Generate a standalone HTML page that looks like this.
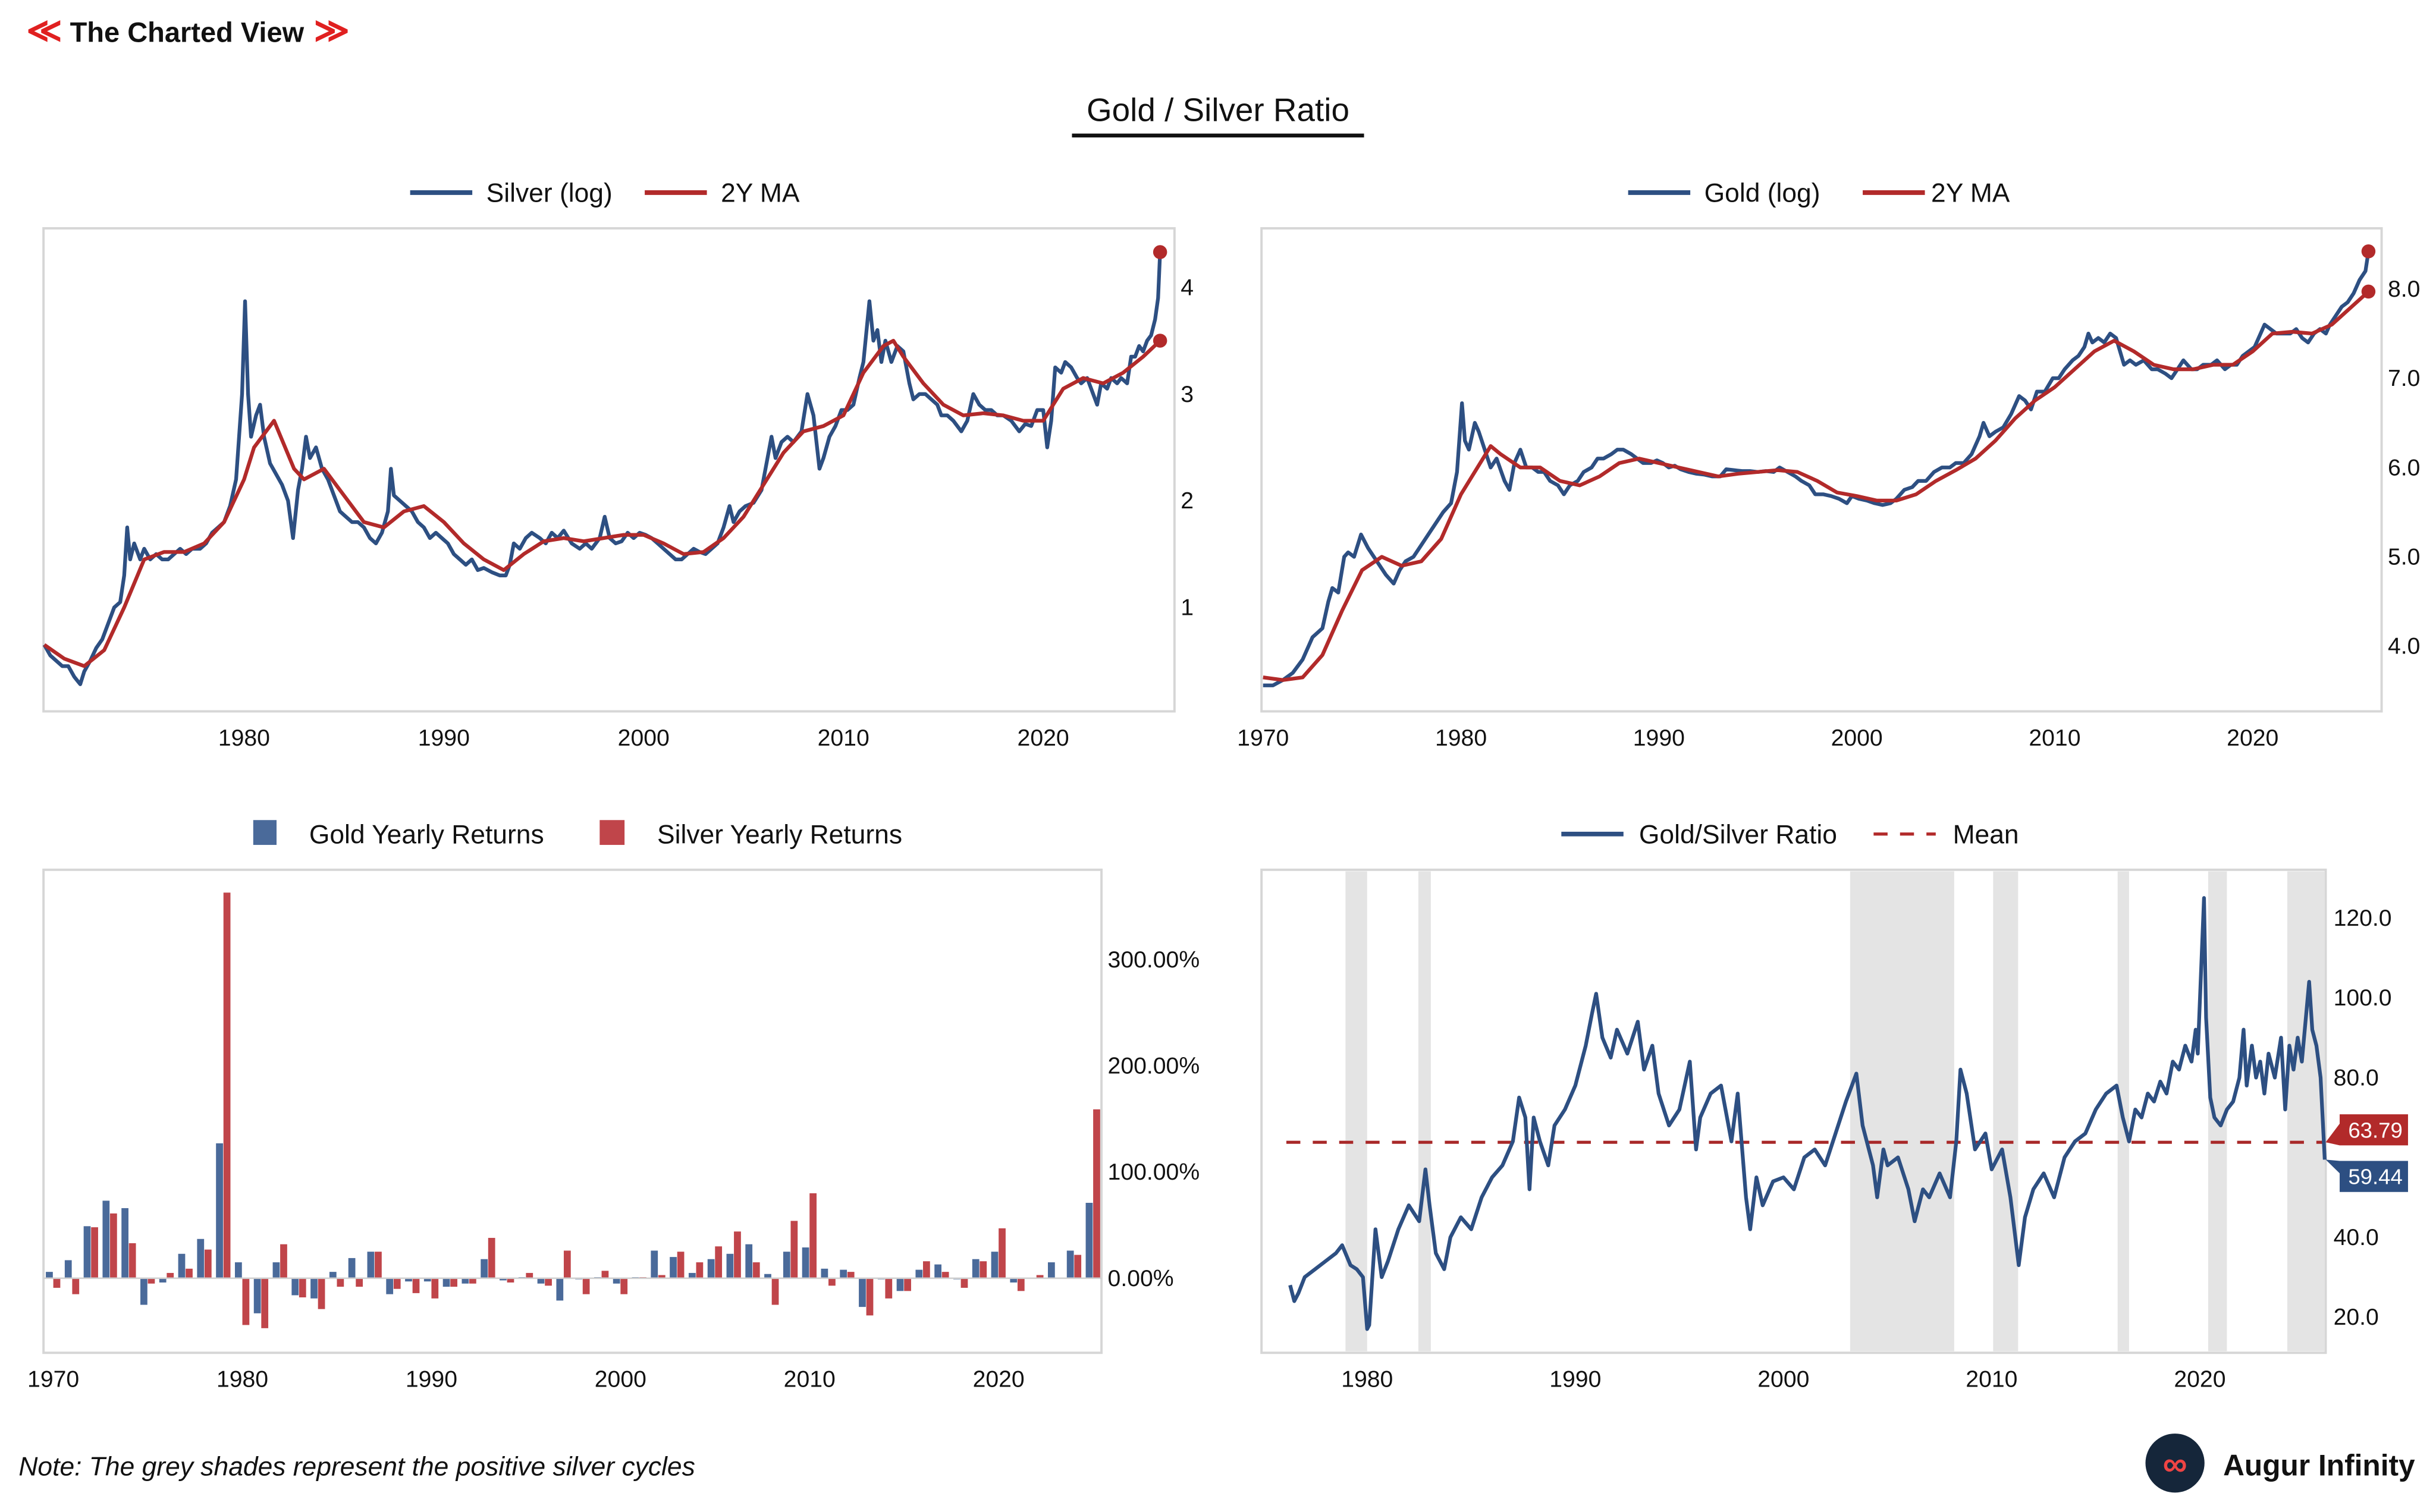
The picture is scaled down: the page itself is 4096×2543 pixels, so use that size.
<!DOCTYPE html>
<html><head><meta charset="utf-8"><style>
html,body{margin:0;padding:0;background:#fff;}
svg{display:block;font-family:"Liberation Sans",sans-serif;}
.tk{font-size:15px;fill:#111;}
.lg{font-size:17px;fill:#111;}
</style></head><body>
<svg id="root" width="4096" height="2543" viewBox="0 0 1568 973.5" xmlns="http://www.w3.org/2000/svg">
<g>
<text x="17" y="27" font-size="22" font-weight="bold" fill="#e02020">≪</text>
<text x="45" y="27" font-size="18" font-weight="bold" fill="#111">The Charted View</text>
<text x="202" y="27" font-size="22" font-weight="bold" fill="#e02020">≫</text>
</g>
<text x="784" y="78" text-anchor="middle" font-size="21" fill="#111">Gold / Silver Ratio</text>
<rect x="690" y="86" width="188" height="2.5" fill="#111"/>

<g>
<line x1="264" y1="124" x2="304" y2="124" stroke="#2d4f82" stroke-width="3"/><text class="lg" x="313" y="130">Silver (log)</text>
<line x1="415" y1="124" x2="455" y2="124" stroke="#b22a2a" stroke-width="3"/><text class="lg" x="464" y="130">2Y MA</text>
</g>
<g>
<line x1="1048" y1="124" x2="1088" y2="124" stroke="#2d4f82" stroke-width="3"/><text class="lg" x="1097" y="130">Gold (log)</text>
<line x1="1199" y1="124" x2="1239" y2="124" stroke="#b22a2a" stroke-width="3"/><text class="lg" x="1243" y="130">2Y MA</text>
</g>
<g>
<rect x="163" y="528" width="15" height="16" fill="#4a6a9a"/><text class="lg" x="199" y="543">Gold Yearly Returns</text>
<rect x="386" y="528" width="16" height="16" fill="#c0454a"/><text class="lg" x="423" y="543">Silver Yearly Returns</text>
</g>
<g>
<line x1="1005" y1="537" x2="1045" y2="537" stroke="#2d4f82" stroke-width="3"/><text class="lg" x="1055" y="543">Gold/Silver Ratio</text>
<line x1="1206" y1="537" x2="1246" y2="537" stroke="#b22a2a" stroke-width="2" stroke-dasharray="9,8"/><text class="lg" x="1257" y="543">Mean</text>
</g>

<g id="p1"><rect x="28" y="147" width="728" height="311" fill="none" stroke="#d6d6d6" stroke-width="1.5"/></g>
<g id="p2"><rect x="812" y="147" width="721" height="311" fill="none" stroke="#d6d6d6" stroke-width="1.5"/></g>
<g id="p3"><rect x="28" y="560" width="681" height="311" fill="none" stroke="#d6d6d6" stroke-width="1.5"/></g>
<g id="p4"><rect x="812" y="560" width="685" height="311" fill="none" stroke="#d6d6d6" stroke-width="1.5"/></g>

<text x="12" y="950" font-size="17" font-style="italic" fill="#111">Note: The grey shades represent the positive silver cycles</text>
<g>
<circle cx="1400" cy="942" r="19" fill="#15263a"/>
<text x="1400" y="950" text-anchor="middle" font-size="22" fill="#e44" font-weight="bold">∞</text>
<text x="1431" y="950" font-size="19" font-weight="bold" fill="#111">Augur Infinity</text>
</g>
</svg>
<script>
const silverYears=[1970.0,1970.3,1970.6,1970.9,1971.2,1971.5,1971.8,1972.0,1972.3,1972.6,1972.9,1973.2,1973.5,1973.8,1974.0,1974.15,1974.3,1974.5,1974.8,1975.0,1975.3,1975.6,1975.9,1976.2,1976.5,1976.8,1977.1,1977.4,1977.8,1978.1,1978.4,1978.7,1979.0,1979.3,1979.6,1979.9,1980.05,1980.2,1980.35,1980.6,1980.8,1981.0,1981.3,1981.6,1981.9,1982.2,1982.45,1982.7,1982.9,1983.1,1983.3,1983.6,1983.9,1984.2,1984.5,1984.8,1985.1,1985.4,1985.7,1986.0,1986.3,1986.6,1986.9,1987.2,1987.35,1987.5,1987.8,1988.1,1988.4,1988.7,1989.0,1989.3,1989.6,1989.9,1990.2,1990.5,1990.8,1991.1,1991.4,1991.7,1992.0,1992.4,1992.8,1993.1,1993.3,1993.5,1993.8,1994.1,1994.4,1994.8,1995.1,1995.4,1995.7,1996.0,1996.4,1996.8,1997.1,1997.4,1997.8,1998.05,1998.3,1998.6,1998.9,1999.2,1999.5,1999.8,2000.1,2000.4,2000.7,2001.0,2001.3,2001.6,2001.9,2002.2,2002.5,2002.8,2003.1,2003.4,2003.7,2004.0,2004.3,2004.5,2004.8,2005.1,2005.5,2005.9,2006.2,2006.4,2006.6,2006.9,2007.2,2007.5,2007.9,2008.2,2008.5,2008.8,2009.0,2009.3,2009.6,2009.9,2010.2,2010.5,2010.8,2011.0,2011.3,2011.5,2011.7,2011.9,2012.1,2012.4,2012.7,2013.0,2013.3,2013.5,2013.8,2014.1,2014.4,2014.7,2014.9,2015.2,2015.5,2015.9,2016.2,2016.5,2016.8,2017.1,2017.4,2017.7,2018.0,2018.4,2018.8,2019.1,2019.4,2019.7,2020.0,2020.2,2020.4,2020.6,2020.9,2021.1,2021.4,2021.7,2021.9,2022.2,2022.4,2022.7,2022.9,2023.2,2023.4,2023.7,2023.9,2024.2,2024.4,2024.6,2024.8,2025.0,2025.2,2025.4,2025.6,2025.75,2025.85];
const silverVals=[0.65,0.55,0.5,0.45,0.45,0.35,0.28,0.4,0.5,0.62,0.7,0.85,1.0,1.05,1.3,1.75,1.45,1.6,1.45,1.55,1.45,1.5,1.45,1.45,1.5,1.55,1.5,1.55,1.55,1.6,1.7,1.75,1.8,1.95,2.2,3.0,3.87,3.0,2.6,2.8,2.9,2.6,2.35,2.25,2.15,2.0,1.65,2.1,2.3,2.6,2.4,2.5,2.3,2.2,2.05,1.9,1.85,1.8,1.8,1.75,1.65,1.6,1.7,1.9,2.3,2.05,2.0,1.95,1.9,1.8,1.75,1.65,1.7,1.65,1.6,1.5,1.45,1.4,1.45,1.35,1.37,1.33,1.3,1.3,1.4,1.6,1.55,1.65,1.7,1.65,1.6,1.7,1.65,1.72,1.6,1.55,1.6,1.55,1.65,1.85,1.65,1.6,1.62,1.7,1.65,1.7,1.68,1.65,1.6,1.55,1.5,1.45,1.45,1.5,1.55,1.52,1.5,1.55,1.6,1.75,1.95,1.8,1.9,1.95,1.98,2.1,2.4,2.6,2.4,2.55,2.6,2.55,2.65,3.0,2.8,2.3,2.4,2.6,2.7,2.85,2.85,2.9,3.15,3.3,3.87,3.5,3.6,3.3,3.5,3.3,3.45,3.4,3.1,2.95,3.0,3.0,2.95,2.9,2.8,2.8,2.75,2.65,2.75,3.0,2.9,2.85,2.85,2.8,2.8,2.75,2.65,2.72,2.7,2.85,2.85,2.5,2.75,3.25,3.2,3.3,3.25,3.15,3.1,3.15,3.05,2.9,3.1,3.05,3.15,3.1,3.15,3.1,3.35,3.35,3.45,3.4,3.5,3.55,3.7,3.9,4.33];
const silverMaYears=[1970,1971,1972,1973,1974,1975,1976,1977,1978,1979,1980,1980.5,1981.5,1982.5,1983,1984,1985,1986,1987,1988,1989,1990,1991,1992,1993,1994,1995,1996,1997,1998,1999,2000,2001,2002,2003,2004,2005,2006,2007,2008,2009,2010,2011,2012,2012.5,2013,2014,2015,2016,2017,2018,2019,2020,2021,2022,2023,2024,2025,2025.85];
const silverMaVals=[0.65,0.52,0.45,0.6,1.0,1.45,1.52,1.52,1.6,1.8,2.2,2.5,2.75,2.3,2.2,2.3,2.05,1.8,1.75,1.9,1.95,1.8,1.6,1.45,1.35,1.5,1.62,1.65,1.62,1.65,1.68,1.68,1.6,1.5,1.52,1.65,1.85,2.15,2.45,2.65,2.7,2.8,3.2,3.45,3.5,3.35,3.1,2.9,2.8,2.82,2.8,2.75,2.75,3.05,3.15,3.1,3.2,3.35,3.5];
const silverTicks=[1,2,3,4];
const goldYears=[1970.0,1970.5,1971.0,1971.5,1972.0,1972.5,1973.0,1973.3,1973.5,1973.8,1974.1,1974.3,1974.6,1974.95,1975.3,1975.6,1975.9,1976.2,1976.6,1976.9,1977.2,1977.6,1977.9,1978.2,1978.5,1978.8,1979.1,1979.5,1979.8,1980.05,1980.2,1980.4,1980.7,1980.9,1981.2,1981.5,1981.8,1982.2,1982.45,1982.7,1983.0,1983.3,1983.6,1983.9,1984.2,1984.5,1984.9,1985.2,1985.5,1985.9,1986.2,1986.6,1986.9,1987.2,1987.6,1987.9,1988.2,1988.6,1988.9,1989.2,1989.6,1989.9,1990.2,1990.5,1990.8,1991.1,1991.5,1991.9,1992.3,1992.7,1993.1,1993.4,1993.8,1994.2,1994.6,1995.0,1995.4,1995.8,1996.1,1996.5,1996.9,1997.2,1997.6,1997.9,1998.3,1998.7,1999.1,1999.5,1999.75,2000.1,2000.5,2000.9,2001.3,2001.7,2002.0,2002.4,2002.8,2003.1,2003.5,2003.9,2004.3,2004.7,2005.0,2005.4,2005.8,2006.2,2006.4,2006.7,2007.0,2007.4,2007.8,2008.2,2008.5,2008.8,2009.1,2009.5,2009.9,2010.2,2010.5,2010.9,2011.2,2011.5,2011.7,2011.9,2012.2,2012.5,2012.8,2013.1,2013.3,2013.5,2013.8,2014.1,2014.5,2014.9,2015.2,2015.6,2015.9,2016.2,2016.5,2016.9,2017.2,2017.5,2017.9,2018.2,2018.6,2018.9,2019.2,2019.5,2019.8,2020.1,2020.4,2020.6,2020.9,2021.2,2021.6,2021.9,2022.2,2022.5,2022.8,2023.1,2023.4,2023.7,2023.9,2024.2,2024.5,2024.8,2025.1,2025.4,2025.7,2025.85];
const goldVals=[3.56,3.56,3.62,3.7,3.85,4.1,4.2,4.5,4.65,4.6,5.0,5.05,5.0,5.25,5.1,5.0,4.9,4.8,4.7,4.85,4.95,5.0,5.1,5.2,5.3,5.4,5.5,5.6,5.95,6.72,6.3,6.2,6.5,6.4,6.2,6.0,6.1,5.85,5.75,6.05,6.2,6.0,6.0,5.95,5.95,5.85,5.8,5.7,5.8,5.85,5.95,6.0,6.1,6.1,6.15,6.2,6.2,6.15,6.1,6.05,6.05,6.08,6.05,6.0,6.02,5.98,5.95,5.93,5.92,5.9,5.9,5.98,5.97,5.96,5.96,5.95,5.96,5.95,6.0,5.95,5.9,5.85,5.8,5.7,5.7,5.68,5.65,5.6,5.68,5.65,5.63,5.6,5.58,5.6,5.65,5.75,5.78,5.85,5.85,5.95,6.0,6.0,6.05,6.05,6.15,6.35,6.5,6.35,6.4,6.45,6.6,6.8,6.75,6.65,6.85,6.85,7.0,7.0,7.1,7.2,7.25,7.35,7.5,7.4,7.45,7.4,7.5,7.45,7.3,7.15,7.2,7.15,7.2,7.1,7.1,7.05,7.0,7.1,7.2,7.1,7.1,7.15,7.15,7.2,7.1,7.15,7.15,7.25,7.3,7.35,7.5,7.6,7.55,7.5,7.5,7.5,7.55,7.45,7.4,7.5,7.55,7.5,7.6,7.7,7.8,7.85,7.95,8.1,8.2,8.42];
const goldMaYears=[1970,1971,1972,1973,1974,1975,1976,1977,1978,1979,1980,1981.5,1982,1983,1984,1985,1986,1987,1988,1989,1990,1991,1992,1993,1994,1995,1996,1997,1998,1999,2000,2001,2002,2003,2004,2005,2006,2007,2008,2009,2010,2011,2012,2013,2014,2015,2016,2017,2018,2019,2020,2021,2022,2023,2024,2025,2025.85];
const goldMaVals=[3.65,3.62,3.65,3.9,4.4,4.85,5.0,4.9,4.95,5.2,5.7,6.24,6.15,6.0,6.0,5.85,5.8,5.9,6.05,6.1,6.05,6.0,5.95,5.9,5.93,5.95,5.97,5.95,5.85,5.72,5.68,5.63,5.63,5.7,5.85,5.97,6.1,6.3,6.55,6.75,6.9,7.1,7.3,7.42,7.3,7.15,7.1,7.1,7.15,7.15,7.3,7.5,7.52,7.5,7.6,7.8,7.97];
const goldTicks=[4,5,6,7,8];
const retYears=[1970,1971,1972,1973,1974,1975,1976,1977,1978,1979,1980,1981,1982,1983,1984,1985,1986,1987,1988,1989,1990,1991,1992,1993,1994,1995,1996,1997,1998,1999,2000,2001,2002,2003,2004,2005,2006,2007,2008,2009,2010,2011,2012,2013,2014,2015,2016,2017,2018,2019,2020,2021,2022,2023,2024,2025];
const goldRet=[6,17,49,73,66,-25,-4,23,37,127,15,-33,15,-16,-19,6,19,25,-15,-3,-3,-8,-5,18,-2,1,-5,-21,-1,1,-5,1,26,20,5,18,23,32,4,25,29,9,8,-27,-1,-12,8,13,-1,18,25,-4,0,15,26,71];
const silverRet=[-9,-15,48,61,33,-5,5,9,27,363,-44,-47,32,-18,-29,-8,-8,25,-10,-14,-19,-8,-5,38,-4,5,-7,26,-15,7,-15,1,3,25,15,30,44,15,-25,54,80,-7,6,-35,-19,-12,16,6,-9,16,47,-12,3,0,22,159];
const retTicks=[0,100,200,300];
const ratioYears=[1976.3,1976.5,1976.7,1977,1977.5,1978,1978.5,1978.8,1979.2,1979.5,1979.8,1980.0,1980.1,1980.4,1980.7,1981,1981.5,1982,1982.5,1982.8,1983,1983.3,1983.7,1984,1984.5,1985,1985.5,1986,1986.5,1987,1987.3,1987.6,1987.8,1988,1988.3,1988.7,1989,1989.5,1990,1990.5,1990.8,1991,1991.3,1991.7,1992,1992.5,1993,1993.3,1993.7,1994,1994.5,1995,1995.5,1995.8,1996,1996.5,1997,1997.5,1997.8,1998.2,1998.4,1998.7,1999,1999.5,2000,2000.5,2001,2001.5,2002,2002.5,2003,2003.5,2003.8,2004.3,2004.5,2004.8,2005,2005.5,2006,2006.3,2006.7,2007,2007.5,2008,2008.3,2008.5,2008.8,2009.2,2009.7,2010,2010.5,2010.9,2011.3,2011.6,2012,2012.5,2013,2013.5,2014,2014.5,2015,2015.5,
2016,2016.3,2016.6,2016.9,2017.2,2017.5,2017.8,2018.1,2018.4,2018.7,2019.0,2019.3,2019.6,2019.8,2019.9,2020.2,2020.3,2020.5,2020.7,
2021,2021.3,2021.6,2021.9,2022.1,2022.25,2022.5,2022.7,2022.9,2023.1,2023.3,2023.6,2023.9,2024.1,2024.3,2024.5,2024.7,2024.9,2025.25,2025.4,2025.6,2025.8,2026.0];
const ratioVals=[28,24,26,30,32,34,36,38,33,32,30,17,18,42,30,34,42,48,44,57,48,36,32,40,45,42,50,55,58,64,75,70,52,70,64,58,68,72,78,88,96,101,90,85,92,86,94,82,88,76,68,72,84,62,70,76,78,64,76,50,42,55,48,54,55,52,60,62,58,66,74,81,68,58,50,62,58,60,52,44,52,50,56,50,64,82,76,62,66,57,62,50,33,45,52,56,50,60,64,66,72,76,
78,70,64,72,70,76,74,79,76,84,82,88,84,92,86,125,95,75,70,
68,72,74,80,92,78,88,80,84,76,86,80,90,72,88,82,90,84,104,92,88,80,59.44];
const ratioMean=63.79;
const cycleStarts=[1978.96,1982.46,2003.2,2010.07,2016.05,2020.4,2024.2];
const cycleEnds=[1980.0,1983.06,2008.2,2011.27,2016.6,2021.3,2026.0];
const ratioTicks=[20,40,80,100,120];
const yearTicks=[1980,1990,2000,2010,2020];

const NS="http://www.w3.org/2000/svg";
function mk(parent,tag,attrs){const e=document.createElementNS(NS,tag);for(const k in attrs)e.setAttribute(k,attrs[k]);parent.appendChild(e);return e;}
function pathD(xs,ys,fx,fy){return xs.map((x,i)=>(i?'L':'M')+fx(x).toFixed(2)+','+fy(ys[i]).toFixed(2)).join('');}

// Panel 1 silver
const p1=document.getElementById('p1');
const x1=y=>28.5+(y-1970)*12.86, y1=v=>185+(4-v)*68.7;
yearTicks.forEach(t=>{const e=mk(p1,'text',{x:x1(t),y:480,'text-anchor':'middle',class:'tk'});e.textContent=t;

});
silverTicks.forEach(t=>{const e=mk(p1,'text',{x:760,y:y1(t)+5,class:'tk'});e.textContent=t;

});
let e=mk(p1,'path',{d:pathD(silverYears,silverVals,x1,y1),fill:'none',stroke:'#2d4f82','stroke-width':2.4,'stroke-linejoin':'round'});


e=mk(p1,'path',{d:pathD(silverMaYears,silverMaVals,x1,y1),fill:'none',stroke:'#b22a2a','stroke-width':2.4,'stroke-linejoin':'round'});


e=mk(p1,'circle',{cx:x1(silverYears[silverYears.length-1]),cy:y1(silverVals[silverVals.length-1]),r:4.5,fill:'#b22a2a'});


e=mk(p1,'circle',{cx:x1(silverMaYears[silverMaYears.length-1]),cy:y1(silverMaVals[silverMaVals.length-1]),r:4.5,fill:'#b22a2a'});



// Panel 2 gold
const p2=document.getElementById('p2');
const x2=y=>813+(y-1970)*12.74, y2=v=>186+(8-v)*57.5;
[1970].concat(yearTicks).forEach(t=>{const e=mk(p2,'text',{x:x2(t),y:480,'text-anchor':'middle',class:'tk'});e.textContent=t;

});
goldTicks.forEach(t=>{const e=mk(p2,'text',{x:1537,y:y2(t)+5,class:'tk'});e.textContent=t.toFixed(1);

});
e=mk(p2,'path',{d:pathD(goldYears,goldVals,x2,y2),fill:'none',stroke:'#2d4f82','stroke-width':2.4,'stroke-linejoin':'round'});


e=mk(p2,'path',{d:pathD(goldMaYears,goldMaVals,x2,y2),fill:'none',stroke:'#b22a2a','stroke-width':2.4,'stroke-linejoin':'round'});


e=mk(p2,'circle',{cx:x2(goldYears[goldYears.length-1]),cy:y2(goldVals[goldVals.length-1]),r:4.5,fill:'#b22a2a'});


e=mk(p2,'circle',{cx:x2(goldMaYears[goldMaYears.length-1]),cy:y2(goldMaVals[goldMaVals.length-1]),r:4.5,fill:'#b22a2a'});



// Panel 3 returns
const p3=document.getElementById('p3');
const x3=y=>34.3+(y-1970)*12.17, y3=v=>823-v*0.684;
[1970].concat(yearTicks).forEach(t=>{const e=mk(p3,'text',{x:x3(t),y:893,'text-anchor':'middle',class:'tk'});e.textContent=t;

});
retTicks.forEach(t=>{const e=mk(p3,'text',{x:713,y:y3(t)+5,class:'tk'});e.textContent=t.toFixed(2)+'%';

});
retYears.forEach((yr,i)=>{
 const c=x3(yr);
 let g=goldRet[i];let b=mk(p3,'rect',{x:c-4.8,y:Math.min(y3(g),y3(0)),width:4.5,height:Math.abs(y3(g)-y3(0)),fill:'#4a6a9a'});
 
 
 let s=silverRet[i];b=mk(p3,'rect',{x:c,y:Math.min(y3(s),y3(0)),width:4.5,height:Math.abs(y3(s)-y3(0)),fill:'#c0454a'});
 
 
});
e=mk(p3,'line',{x1:28,x2:709,y1:y3(0),y2:y3(0),stroke:'#d0d0d0','stroke-width':1});



// Panel 4 ratio
const p4=document.getElementById('p4');
const x4=y=>880+(y-1980)*13.4, y4=v=>591+(120-v)*2.57;
cycleStarts.forEach((s,i)=>{const r=mk(p4,'rect',{x:x4(s),y:561,width:x4(cycleEnds[i])-x4(s),height:309,fill:'#e4e4e4'});

});
yearTicks.forEach(t=>{const e=mk(p4,'text',{x:x4(t),y:893,'text-anchor':'middle',class:'tk'});e.textContent=t;

});
ratioTicks.forEach(t=>{const e=mk(p4,'text',{x:1502,y:y4(t)+5,class:'tk'});e.textContent=t.toFixed(1);

});
e=mk(p4,'line',{x1:828,x2:1497,y1:y4(ratioMean),y2:y4(ratioMean),stroke:'#a82828','stroke-width':2,'stroke-dasharray':'9,8'});


e=mk(p4,'path',{d:pathD(ratioYears,ratioVals,x4,y4),fill:'none',stroke:'#2d4f82','stroke-width':2.4,'stroke-linejoin':'round'});


const ym=y4(ratioMean), yl=y4(ratioVals[ratioVals.length-1]);
const rb=ym-18, bb=ym+12;
e=mk(p4,'path',{d:`M1497,${ym} L1506,${rb+6} L1506,${rb} L1550,${rb} L1550,${rb+20} L1506,${rb+20} Z`,fill:'#b22a2a'});


e=mk(p4,'text',{x:1529,y:rb+15,'text-anchor':'middle','font-size':14,fill:'#fff'});e.textContent=ratioMean.toFixed(2);


e=mk(p4,'path',{d:`M1497,${yl} L1506,${bb} L1550,${bb} L1550,${bb+20} L1506,${bb+20} L1506,${bb+8} Z`,fill:'#2d4f82'});


e=mk(p4,'text',{x:1529,y:bb+15,'text-anchor':'middle','font-size':14,fill:'#fff'});e.textContent=ratioVals[ratioVals.length-1].toFixed(2);


</script>
</body></html>
